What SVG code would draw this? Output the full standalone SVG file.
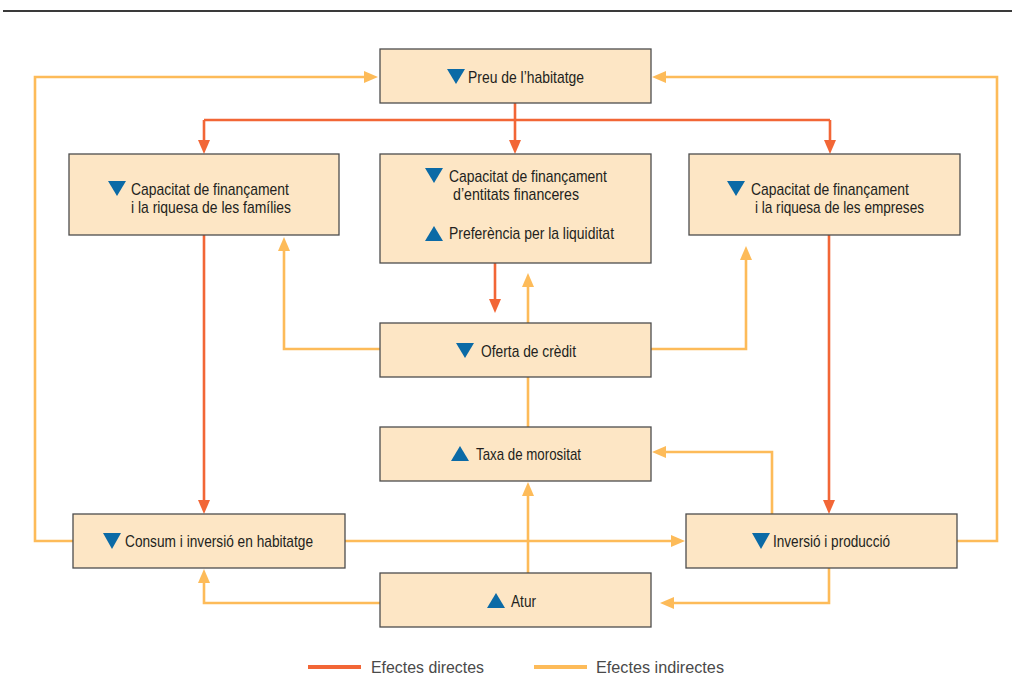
<svg xmlns="http://www.w3.org/2000/svg" width="1012" height="691" viewBox="0 0 1012 691">
<style>
.box{fill:#fde6c5;stroke:#4d4d4d;stroke-width:1.3}
.t{font-family:"Liberation Sans",Arial,sans-serif;font-size:17px;fill:#231f20}
.lg{font-family:"Liberation Sans",Arial,sans-serif;font-size:17px;fill:#4a4a4a}
.tri{fill:#0b6aa6}
.r{fill:none;stroke:#f26636;stroke-width:2.6}
.y{fill:none;stroke:#fdbb59;stroke-width:2.6}
</style>
<defs>
<marker id="ar" viewBox="0 0 14 12" refX="4" refY="6" markerWidth="14" markerHeight="12" markerUnits="userSpaceOnUse" orient="auto"><path d="M0,0 L14,6 L0,12 z" fill="#f26636"/></marker>
<marker id="ay" viewBox="0 0 14 12" refX="4" refY="6" markerWidth="14" markerHeight="12" markerUnits="userSpaceOnUse" orient="auto"><path d="M0,0 L14,6 L0,12 z" fill="#fdbb59"/></marker>
</defs>
<line x1="3" y1="11" x2="1012" y2="11" stroke="#3a3a3a" stroke-width="1.8"/>

<g id="connectors">
<path class="r" d="M515,103 V120" />
<path class="r" d="M204,120 H830" />
<path class="r" d="M204,120 V144" marker-end="url(#ar)"/>
<path class="r" d="M830,120 V144" marker-end="url(#ar)"/>
<path class="r" d="M515,120 V144" marker-end="url(#ar)"/>
<path class="r" d="M204,235 V504" marker-end="url(#ar)"/>
<path class="r" d="M829,235 V504" marker-end="url(#ar)"/>
<path class="r" d="M495,263 V303" marker-end="url(#ar)"/>
<path class="y" d="M528,323 V283" marker-end="url(#ay)"/>
<path class="y" d="M380,349 H284 V247" marker-end="url(#ay)"/>
<path class="y" d="M651,349 H746 V256" marker-end="url(#ay)"/>
<path class="y" d="M528,427 V377"/>
<path class="y" d="M528,573 V492" marker-end="url(#ay)"/>
<path class="y" d="M772,514 V452 H662" marker-end="url(#ay)"/>
<path class="y" d="M345,541 H675" marker-end="url(#ay)"/>
<path class="y" d="M380,603 H204 V579" marker-end="url(#ay)"/>
<path class="y" d="M829,568 V603 H670" marker-end="url(#ay)"/>
<path class="y" d="M73,541 H35 V77 H368" marker-end="url(#ay)"/>
<path class="y" d="M957,541 H997 V77 H662" marker-end="url(#ay)"/>
</g>

<g id="preu">
<rect class="box" x="380" y="49" width="271" height="54"/>
<path class="tri" d="M447,69 H465 L456,84 z"/>
<text class="t" x="468" y="83" textLength="116" lengthAdjust="spacingAndGlyphs">Preu de l’habitatge</text>
</g>

<g id="families">
<rect class="box" x="69" y="154" width="270" height="81"/>
<path class="tri" d="M108,181 H126 L117,196 z"/>
<text class="t" x="131" y="195" textLength="158" lengthAdjust="spacingAndGlyphs">Capacitat de finançament</text>
<text class="t" x="131" y="213" textLength="160" lengthAdjust="spacingAndGlyphs">i la riquesa de les famílies</text>
</g>

<g id="entitats">
<rect class="box" x="380" y="154" width="271" height="109"/>
<path class="tri" d="M425,168 H443 L434,183 z"/>
<text class="t" x="449" y="182" textLength="158" lengthAdjust="spacingAndGlyphs">Capacitat de finançament</text>
<text class="t" x="453" y="200" textLength="126" lengthAdjust="spacingAndGlyphs">d’entitats financeres</text>
<path class="tri" d="M425,241 H443 L434,226 z"/>
<text class="t" x="449" y="239" textLength="165" lengthAdjust="spacingAndGlyphs">Preferència per la liquiditat</text>
</g>

<g id="empreses">
<rect class="box" x="689" y="154" width="271" height="81"/>
<path class="tri" d="M727,181 H745 L736,196 z"/>
<text class="t" x="751" y="195" textLength="158" lengthAdjust="spacingAndGlyphs">Capacitat de finançament</text>
<text class="t" x="755" y="213" textLength="169" lengthAdjust="spacingAndGlyphs">i la riquesa de les empreses</text>
</g>

<g id="oferta">
<rect class="box" x="380" y="323" width="271" height="54"/>
<path class="tri" d="M456,343 H474 L465,358 z"/>
<text class="t" x="481" y="357" textLength="95" lengthAdjust="spacingAndGlyphs">Oferta de crèdit</text>
</g>

<g id="taxa">
<rect class="box" x="380" y="427" width="271" height="54"/>
<path class="tri" d="M451,461 H469 L460,446 z"/>
<text class="t" x="476" y="460" textLength="105" lengthAdjust="spacingAndGlyphs">Taxa de morositat</text>
</g>

<g id="consum">
<rect class="box" x="73" y="514" width="272" height="54"/>
<path class="tri" d="M103,533 H121 L112,549 z"/>
<text class="t" x="125" y="547" textLength="188" lengthAdjust="spacingAndGlyphs">Consum i inversió en habitatge</text>
</g>

<g id="inversio">
<rect class="box" x="686" y="514" width="271" height="54"/>
<path class="tri" d="M752,533 H770 L761,549 z"/>
<text class="t" x="773" y="547" textLength="117" lengthAdjust="spacingAndGlyphs">Inversió i producció</text>
</g>

<g id="atur">
<rect class="box" x="380" y="573" width="271" height="54"/>
<path class="tri" d="M487,608 H505 L496,593 z"/>
<text class="t" x="511" y="607" textLength="25" lengthAdjust="spacingAndGlyphs">Atur</text>
</g>

<g id="legend">
<line x1="308" y1="667" x2="361" y2="667" stroke="#f26636" stroke-width="4"/>
<text class="lg" x="371" y="673" textLength="113" lengthAdjust="spacingAndGlyphs">Efectes directes</text>
<line x1="534" y1="667" x2="587" y2="667" stroke="#fdbb59" stroke-width="4"/>
<text class="lg" x="596" y="673" textLength="128" lengthAdjust="spacingAndGlyphs">Efectes indirectes</text>
</g>
</svg>
